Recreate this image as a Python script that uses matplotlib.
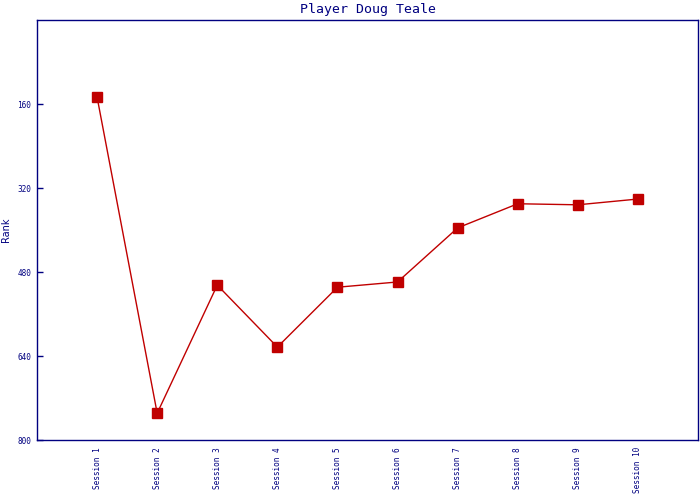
import matplotlib
matplotlib.use("Agg")
import matplotlib.pyplot as plt

# data
sessions = ["Session %d" % i for i in range(1, 11)]
ranks = [147, 749, 505, 623, 509, 499, 396, 350, 352, 341]
y_ticks = [160, 320, 480, 640, 800]

navy = "#000080"
red = "#C00000"

fig = plt.figure(figsize=(7, 5), dpi=100)
ax = fig.add_axes([37 / 700, 60 / 500, 661 / 700, 420 / 500])

x = list(range(1, len(sessions) + 1))
ax.plot(x, ranks, color=red, linewidth=1.0, marker="s", markersize=6.5,
        markerfacecolor=red, markeredgecolor=red)

ax.set_xlim(0, len(sessions) + 1)
ax.set_ylim(800, 0)
ax.set_yticks(y_ticks)
ax.set_yticklabels([str(v) for v in y_ticks], fontsize=5.6, color=navy,
                   family="DejaVu Sans Mono")
ax.set_xticks(x)
ax.set_xticklabels(sessions, rotation=90, fontsize=5.6, color=navy,
                   family="DejaVu Sans Mono", va="top", ha="center")
ax.tick_params(axis="x", length=0, pad=5)
ax.tick_params(axis="y", direction="in", length=4, width=1, color=navy, pad=4.3)

for s in ax.spines.values():
    s.set_color(navy)
    s.set_linewidth(1)

ax.set_ylabel("Rank", color=navy, fontsize=7)
ax.yaxis.set_label_coords(-26 / 661, 0.5)
ax.set_title("Player Doug Teale", color=navy, fontsize=9.5,
             family="DejaVu Sans Mono", pad=5)

fig.savefig("out.png", dpi=100)
